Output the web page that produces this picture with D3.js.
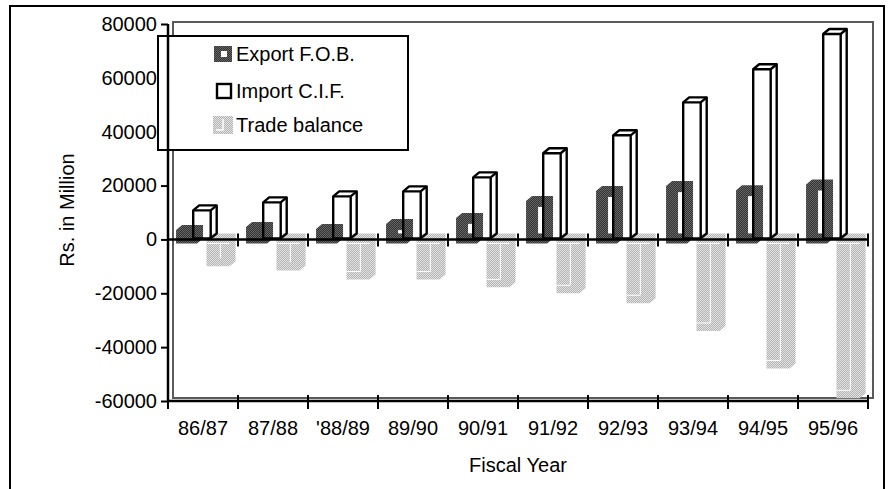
<!DOCTYPE html>
<html lang="en">
<head>
    <title>Export, import and trade balance by fiscal year</title>
    <meta charset="utf-8">
    <script src="https://d3js.org/d3.v7.min.js" charset="utf-8"></script>
<style type="text/css">
body {
	margin: 0;
	background: white;
}
text {
	font-family: "Liberation Sans", Arial, sans-serif;
	font-size: 20px;
	fill: black;
}
</style>
</head>
<body>
<div id="my_dataviz"></div>
<script>

// values (Rs. in million)
var years = ["86/87", "87/88", "'88/89", "89/90", "90/91", "91/92", "92/93", "93/94", "94/95", "95/96"];
var exportFOB = [3500, 4600, 3900, 5700, 8000, 14300, 18000, 19800, 18300, 20400];
var importCIF = [10800, 13750, 16000, 17840, 23050, 32000, 38660, 50900, 63200, 76300];
var tradeBalance = [-10000, -11500, -14900, -14900, -17800, -20000, -23700, -34000, -47900, -59000];
var yTicks = [-60000, -40000, -20000, 0, 20000, 40000, 60000, 80000];
var seriesNames = ["Export F.O.B.", "Import C.I.F.", "Trade balance"];

var W = 894, H = 489;
var plot = {left: 168, right: 868, top: 24, bottom: 401};
var depth = {dx: 6, dy: 5};

var svg = d3.select("#my_dataviz")
  .append("svg")
    .attr("width", W)
    .attr("height", H);

// fill textures
var defs = svg.append("defs");
var dark = defs.append("pattern").attr("id", "darkFill")
    .attr("width", 2).attr("height", 2).attr("patternUnits", "userSpaceOnUse");
dark.append("rect").attr("width", 2).attr("height", 2).attr("fill", "#333333");
dark.append("rect").attr("width", 1).attr("height", 1).attr("fill", "#666666");
dark.append("rect").attr("x", 1).attr("y", 1).attr("width", 1).attr("height", 1).attr("fill", "#666666");

var light = defs.append("pattern").attr("id", "lightFill")
    .attr("width", 2).attr("height", 2).attr("patternUnits", "userSpaceOnUse");
light.append("rect").attr("width", 2).attr("height", 2).attr("fill", "#b4b4b4");
light.append("rect").attr("width", 1).attr("height", 1).attr("fill", "#e2e2e2");
light.append("rect").attr("x", 1).attr("y", 1).attr("width", 1).attr("height", 1).attr("fill", "#e2e2e2");

// outer frame
svg.append("rect")
    .attr("x", 10).attr("y", 6)
    .attr("width", 874).attr("height", 520)
    .attr("fill", "none")
    .attr("stroke", "black")
    .attr("stroke-width", 2);

// scales
var x = d3.scaleBand().domain(years).range([plot.left, plot.right]).padding(0);
var y = d3.scaleLinear().domain([-60000, 80000]).range([plot.bottom, plot.top]);
var bw = x.bandwidth();
var y0 = y(0);

// back wall of the 3d box
svg.append("rect")
    .attr("x", plot.left + 5).attr("y", plot.top - 2)
    .attr("width", plot.right - plot.left).attr("height", plot.bottom - plot.top - 1)
    .attr("fill", "none")
    .attr("stroke", "#5a5a5a")
    .attr("stroke-width", 2);

// draws a box: front face plus top and right faces
function box(g, x0, w, yTop, yBot, fill, stroke, sw) {
  var dx = depth.dx, dy = depth.dy;
  g.append("path")
    .attr("d", "M" + x0 + "," + yTop + "L" + (x0 + dx) + "," + (yTop - dy) + "L" + (x0 + w + dx) + "," + (yTop - dy) +
               "L" + (x0 + w + dx) + "," + (yBot - dy) + "L" + (x0 + w) + "," + yBot + "L" + x0 + "," + yBot + "Z")
    .attr("fill", fill)
    .attr("stroke", stroke)
    .attr("stroke-width", sw)
    .attr("stroke-linejoin", "round");
  if (stroke != "none") {
    g.append("path")
      .attr("d", "M" + x0 + "," + yTop + "L" + (x0 + w) + "," + yTop + "L" + (x0 + w + dx) + "," + (yTop - dy) +
                 "M" + (x0 + w) + "," + yTop + "L" + (x0 + w) + "," + yBot)
      .attr("fill", "none")
      .attr("stroke", stroke)
      .attr("stroke-width", sw);
  }
}

var bars = svg.append("g");

// trade balance (back row)
years.forEach(function(yr, i) {
  var x0 = x(yr) + bw * 0.55;
  var w = bw * 0.33;
  var yb = y(tradeBalance[i]);
  box(bars, x0, w, y0 - 1, yb, "url(#lightFill)", "none", 0);
  var inner = x0 + w * 0.6;
  var lines = "M" + x0 + "," + (y0 + 4) + "L" + (x0 + w) + "," + (y0 + 4) +
              "M" + inner + "," + (y0 + 4) + "L" + inner + "," + (yb - 8);
  if (yb - y0 > 40) lines += "M" + x0 + "," + (yb - 8) + "L" + inner + "," + (yb - 8);
  bars.append("path").attr("d", lines).attr("fill", "none").attr("stroke", "white").attr("stroke-width", 1);
});

// export bars
years.forEach(function(yr, i) {
  var x0 = x(yr) + bw * 0.115;
  var w = bw * 0.3;
  var yt = y(exportFOB[i]);
  box(bars, x0, w, yt, y0 + 4, "url(#darkFill)", "none", 0);
  var hTop = yt + 6, hBot = y0 - 6;
  if (hBot - hTop > 0.5) {
    bars.append("rect")
      .attr("x", x0 + w - 9).attr("y", hTop)
      .attr("width", 4.5).attr("height", hBot - hTop)
      .attr("fill", "white");
  }
});

// import bars, outline only
years.forEach(function(yr, i) {
  var x0 = x(yr) + bw * 0.36;
  var w = bw * 0.25;
  var yt = y(importCIF[i]);
  box(bars, x0, w, yt, y0 - 1, "none", "black", 2.4);
});

// zero line with category ticks
svg.append("line")
    .attr("x1", plot.left).attr("x2", plot.right)
    .attr("y1", y0).attr("y2", y0)
    .attr("stroke", "black").attr("stroke-width", 2.5);

var bounds = years.map(function(d) { return x(d); }).concat([plot.right]);
svg.selectAll(".zeroTick")
  .data(bounds)
  .enter().append("line")
    .attr("class", "zeroTick")
    .attr("x1", function(d) { return d; }).attr("x2", function(d) { return d; })
    .attr("y1", y0 - 6).attr("y2", y0 + 7)
    .attr("stroke", "black").attr("stroke-width", 2);

// X axis at the bottom
var xAxis = svg.append("g")
    .attr("transform", "translate(0," + plot.bottom + ")");
xAxis.append("line")
    .attr("x1", plot.left).attr("x2", plot.right)
    .attr("stroke", "black").attr("stroke-width", 2.5);
xAxis.selectAll(".xTick")
  .data(bounds)
  .enter().append("line")
    .attr("class", "xTick")
    .attr("x1", function(d) { return d; }).attr("x2", function(d) { return d; })
    .attr("y1", -6).attr("y2", 8)
    .attr("stroke", "black").attr("stroke-width", 2);
xAxis.selectAll(".xLabel")
  .data(years)
  .enter().append("text")
    .attr("class", "xLabel")
    .attr("x", function(d) { return x(d) + bw / 2; })
    .attr("y", 34)
    .attr("text-anchor", "middle")
    .text(function(d) { return d; });

// Y axis (plain hyphen for negatives, as in the original)
var yAxis = svg.append("g")
    .attr("transform", "translate(" + plot.left + ",0)")
    .call(d3.axisLeft(y).tickValues(yTicks).tickSize(7).tickPadding(4)
      .tickFormat(function(d) { return String(d); }));
yAxis.select(".domain").remove();
yAxis.selectAll(".tick line").attr("stroke", "black").attr("stroke-width", 2);
yAxis.selectAll(".tick text")
    .style("font-family", "'Liberation Sans', Arial, sans-serif")
    .style("font-size", "20px");

// legend box (the y axis line is drawn over it)
var legend = svg.append("g");
legend.append("rect")
    .attr("x", 158).attr("y", 36)
    .attr("width", 250).attr("height", 114)
    .attr("fill", "white")
    .attr("stroke", "black")
    .attr("stroke-width", 2);

var legendY = [54, 91, 125];
// export swatch
legend.append("rect").attr("x", 214).attr("y", legendY[0] - 8).attr("width", 18).attr("height", 16).attr("fill", "url(#darkFill)");
legend.append("rect").attr("x", 221).attr("y", legendY[0] - 3).attr("width", 6).attr("height", 6).attr("fill", "white");
// import swatch
legend.append("rect").attr("x", 217).attr("y", legendY[1] - 7).attr("width", 14).attr("height", 14)
    .attr("fill", "white").attr("stroke", "black").attr("stroke-width", 2.4);
// trade swatch
legend.append("rect").attr("x", 213).attr("y", legendY[2] - 9).attr("width", 20).attr("height", 18).attr("fill", "url(#lightFill)");
legend.append("path")
    .attr("d", "M223," + (legendY[2] - 6) + "L223," + (legendY[2] + 5) + "L216," + (legendY[2] + 5))
    .attr("fill", "none").attr("stroke", "white").attr("stroke-width", 1.5);

legend.selectAll(".legText")
  .data(seriesNames)
  .enter().append("text")
    .attr("class", "legText")
    .attr("x", 236)
    .attr("y", function(d, i) { return legendY[i] + 7; })
    .text(function(d) { return d; });

// y axis line on top
svg.append("line")
    .attr("x1", plot.left).attr("x2", plot.left)
    .attr("y1", plot.top).attr("y2", plot.bottom)
    .attr("stroke", "black").attr("stroke-width", 2.5);

// axis titles
svg.append("text")
    .attr("transform", "translate(74,210) rotate(-90)")
    .attr("text-anchor", "middle")
    .text("Rs. in Million");

svg.append("text")
    .attr("x", (plot.left + plot.right) / 2)
    .attr("y", 472)
    .attr("text-anchor", "middle")
    .text("Fiscal Year");

</script>
</body>
</html>
